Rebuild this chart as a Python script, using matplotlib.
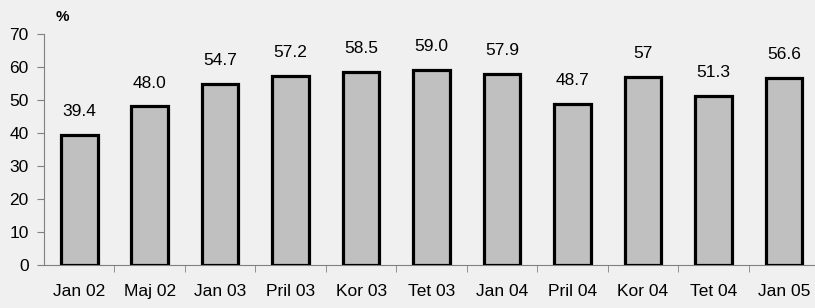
import numpy as np
from matplotlib import pyplot as plt

# categories and values
periods = ["Jan 02", "Maj 02", "Jan 03", "Pril 03", "Kor 03", "Tet 03",
           "Jan 04", "Pril 04", "Kor 04", "Tet 04", "Jan 05"]
values = [39.4, 48.0, 54.7, 57.2, 58.5, 59.0, 57.9, 48.7, 57.0, 51.3, 56.6]
value_labels = ["39.4", "48.0", "54.7", "57.2", "58.5", "59.0",
                "57.9", "48.7", "57", "51.3", "56.6"]
yticks = [0, 10, 20, 30, 40, 50, 60, 70]

plt.rcParams['font.family'] = ['Liberation Sans', 'DejaVu Sans']
fs = 12.5

fig = plt.figure(figsize=(8.15, 3.08), dpi=100)
fig.patch.set_facecolor('#f0f0f0')
ax = fig.add_axes([0.054, 0.14, 0.951, 0.75])
ax.set_facecolor('#f0f0f0')

x = np.arange(len(periods))
ax.bar(x, values, width=0.52, color='#c0c0c0', edgecolor='black', linewidth=2.3, zorder=3)

for xi, v, lab in zip(x, values, value_labels):
    ax.annotate(lab, (xi, v), xytext=(0, 11.5), textcoords='offset points',
                ha='center', va='bottom', fontsize=fs)

ax.set_xlim(-0.5, len(periods) - 0.5)
ax.set_ylim(0, 70)
ax.set_yticks(yticks)
ax.tick_params(axis='y', direction='out', length=5, color='#808080', labelsize=fs, pad=6)

# category labels centred, tick marks between categories
ax.set_xticks(x)
ax.set_xticklabels(periods, fontsize=fs)
ax.tick_params(axis='x', which='major', length=0, pad=14)
ax.set_xticks(np.arange(len(periods)) + 0.5, minor=True)
ax.tick_params(axis='x', which='minor', direction='out', length=5, color='#808080')

for s in ['top', 'right']:
    ax.spines[s].set_visible(False)
for s in ['left', 'bottom']:
    ax.spines[s].set_color('#808080')
    ax.spines[s].set_linewidth(0.8)

fig.text(62 / 815, 1 - 17 / 308, "%", fontsize=11, fontweight='bold', ha='center', va='center')

fig.savefig('out.png', dpi=100, facecolor=fig.get_facecolor())
